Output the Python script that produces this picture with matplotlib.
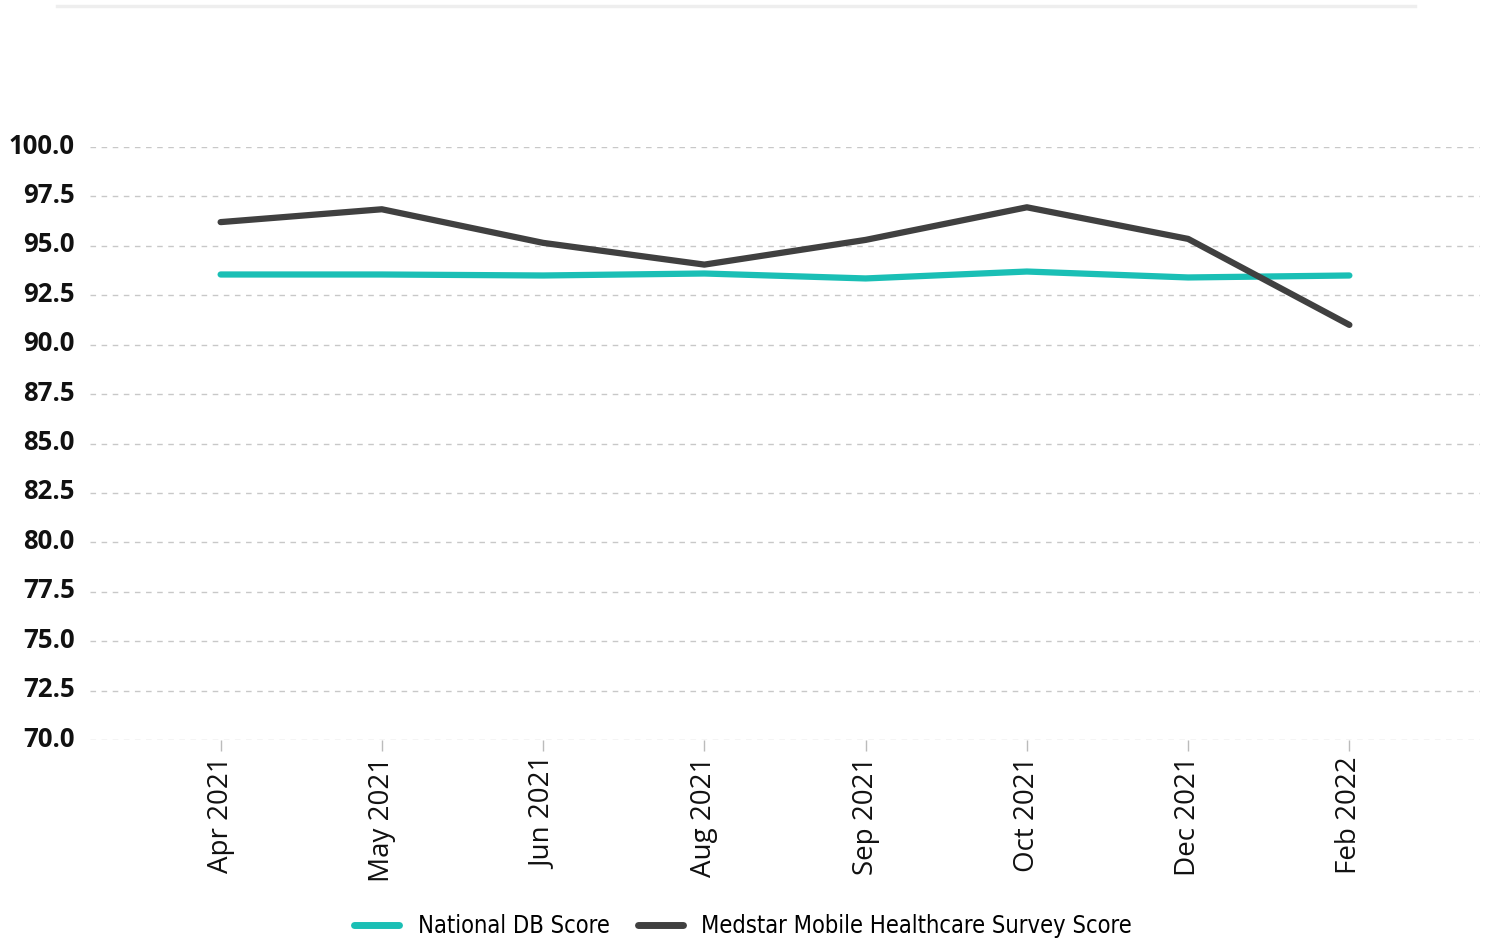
import matplotlib
matplotlib.use("Agg")
import matplotlib.pyplot as plt
import matplotlib.transforms as mtransforms
from matplotlib.lines import Line2D

months = ["Apr 2021", "May 2021", "Jun 2021", "Aug 2021", "Sep 2021", "Oct 2021", "Dec 2021", "Feb 2022"]
national_db = [93.55, 93.55, 93.5, 93.6, 93.35, 93.7, 93.4, 93.5]
medstar = [96.2, 96.85, 95.15, 94.05, 95.3, 96.95, 95.35, 91.0]
y_ticks = [70.0, 72.5, 75.0, 77.5, 80.0, 82.5, 85.0, 87.5, 90.0, 92.5, 95.0, 97.5, 100.0]

teal = "#1abfb5"
dark = "#404040"

plt.rcParams['font.family'] = ['Open Sans', 'DejaVu Sans']

fig = plt.figure(figsize=(14.9, 9.43), dpi=100)
ax = fig.add_axes([90/1490, 1-740/943, (1480-90)/1490, (740-147)/943])

x = list(range(len(months)))
ax.plot(x, national_db, color=teal, lw=4.5, solid_capstyle='round', solid_joinstyle='round', zorder=3)
ax.plot(x, medstar, color=dark, lw=4.5, solid_capstyle='round', solid_joinstyle='round', zorder=4)

ax.set_xlim(-0.81, len(months) - 1 + 0.81)
ax.set_ylim(70, 100)
ax.set_yticks(y_ticks)
ax.set_yticklabels([f"{v:.1f}" for v in y_ticks], fontsize=18.5, fontweight='bold', color='#111111')
ax.set_xticks(x)
ax.set_xticklabels(months, rotation=90, fontsize=20, color='#111111')

ax.yaxis.grid(True, color='#c8c8c8', linestyle=(0, (4, 4)), lw=1)
ax.set_axisbelow(True)
for s in ax.spines.values():
    s.set_visible(False)
ax.tick_params(axis='y', length=0, pad=11)
ax.tick_params(axis='x', length=8, width=1, color='#bbbbbb', pad=4)

# nudge y tick labels slightly upward
offset = mtransforms.ScaledTranslation(0, 4/100, fig.dpi_scale_trans)
for lbl in ax.get_yticklabels():
    lbl.set_transform(lbl.get_transform() + offset)

# top decorative line
fig.add_artist(Line2D([57/1490, 1415/1490], [1-6/943, 1-6/943], color='#eeeeee', lw=2.5))

handles = [Line2D([], [], color=teal, lw=5, solid_capstyle='round'),
           Line2D([], [], color=dark, lw=5, solid_capstyle='round')]
fig.legend(handles, ["National DB Score", "Medstar Mobile Healthcare Survey Score"],
           loc='center', bbox_to_anchor=(743/1490, 1-926/943), ncol=2, frameon=False,
           handlelength=1.9, handletextpad=0.8, columnspacing=1.2,
           prop={'family': 'DejaVu Sans', 'stretch': 'condensed', 'size': 17})

fig.savefig("out.png", dpi=100, facecolor='white')
